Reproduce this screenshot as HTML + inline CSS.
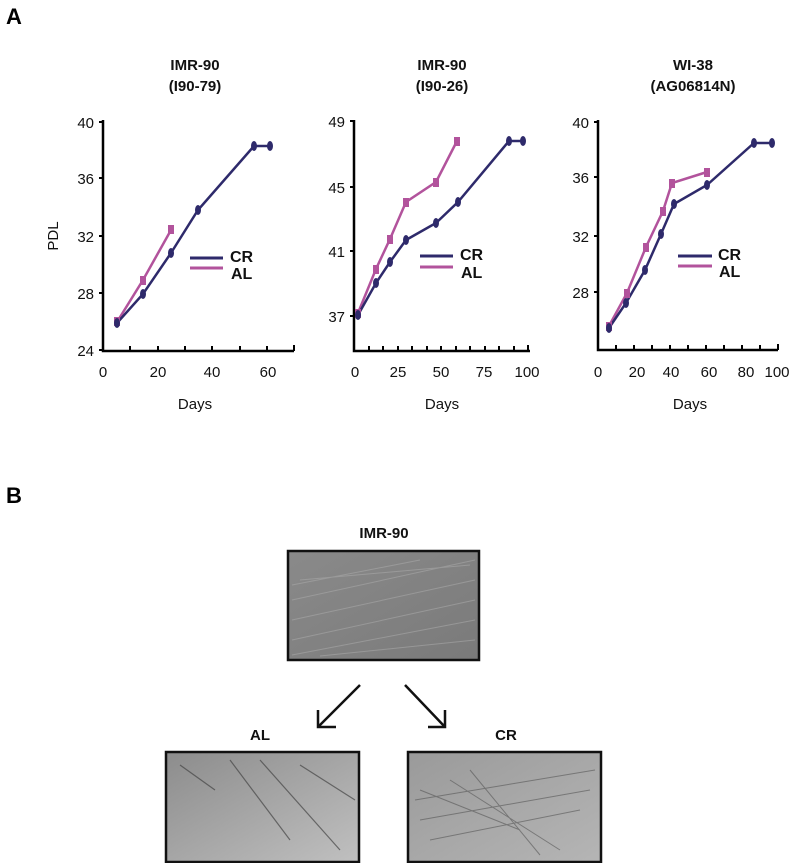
<!DOCTYPE html>
<html><head><meta charset="utf-8"><style>
body{margin:0;background:#fff;}
svg{display:block;font-family:"Liberation Sans",Arial,sans-serif;}
.t{font-size:15px;fill:#111;}
.h{font-size:15px;font-weight:bold;fill:#111;}
.cr{fill:none;stroke:#2e2a6b;stroke-width:2.5;}
.al{fill:none;stroke:#b2539c;stroke-width:2.5;}
.ax{stroke:#000;stroke-width:2.5;fill:none;}
</style></head><body>
<svg width="795" height="863" viewBox="0 0 795 863">
<defs>
<linearGradient id="g1" x1="0" y1="0" x2="1" y2="1"><stop offset="0" stop-color="#8a8a8a"/><stop offset="1" stop-color="#7a7a7a"/></linearGradient>
<linearGradient id="g2" x1="0" y1="0" x2="1" y2="1"><stop offset="0" stop-color="#8c8c8c"/><stop offset="1" stop-color="#c0c0c0"/></linearGradient>
<linearGradient id="g3" x1="0" y1="0" x2="1" y2="1"><stop offset="0" stop-color="#9a9a9a"/><stop offset="1" stop-color="#b5b5b5"/></linearGradient>
</defs>
<text x="6" y="24" style="font-size:22px;font-weight:bold">A</text>
<text x="6" y="503" style="font-size:22px;font-weight:bold">B</text>

<!-- Chart 1 -->
<text class="h" x="195" y="70" text-anchor="middle">IMR-90</text>
<text class="h" x="195" y="91" text-anchor="middle">(I90-79)</text>
<path class="ax" d="M103,120 V351 H294"/>
<g stroke="#000" stroke-width="2">
<path d="M103,122h-4M103,178h-4M103,236h-4M103,293h-4M103,350h-4"/>
<path d="M130,351v-5M158,351v-5M185,351v-5M212,351v-5M240,351v-5M267,351v-5M294,351v-6"/>
</g>
<g class="t" text-anchor="end"><text x="94" y="128">40</text><text x="94" y="184">36</text><text x="94" y="242">32</text><text x="94" y="299">28</text><text x="94" y="356">24</text></g>
<g class="t" text-anchor="middle"><text x="103" y="377">0</text><text x="158" y="377">20</text><text x="212" y="377">40</text><text x="268" y="377">60</text></g>
<text class="t" x="195" y="409" text-anchor="middle">Days</text>
<text class="t" x="58" y="236" text-anchor="middle" transform="rotate(-90 58 236)">PDL</text>
<polyline class="al" points="117,322 143,280 171,230"/>
<polyline class="cr" points="117,323 143,294 171,253 198,210 254,146 270,146"/>
<g fill="#b2539c"><rect x="114" y="317" width="6" height="9"/><rect x="140" y="276" width="6" height="9"/><rect x="168" y="225" width="6" height="9"/></g>
<g fill="#2e2a6b"><ellipse cx="117" cy="323" rx="3" ry="5"/><ellipse cx="143" cy="294" rx="3" ry="5"/><ellipse cx="171" cy="253" rx="3" ry="5"/><ellipse cx="198" cy="210" rx="3" ry="5"/><ellipse cx="254" cy="146" rx="3" ry="5"/><ellipse cx="270" cy="146" rx="3" ry="5"/></g>
<path d="M190,258h33" stroke="#2e2a6b" stroke-width="3"/><path d="M190,268h33" stroke="#b2539c" stroke-width="3"/>
<text class="h" x="230" y="262" style="font-size:16px">CR</text><text class="h" x="231" y="279" style="font-size:16px">AL</text>

<!-- Chart 2 -->
<text class="h" x="442" y="70" text-anchor="middle">IMR-90</text>
<text class="h" x="442" y="91" text-anchor="middle">(I90-26)</text>
<path class="ax" d="M354,120 V351 H530"/>
<g stroke="#000" stroke-width="2">
<path d="M354,121h-4M354,187h-4M354,251h-4M354,316h-4"/>
<path d="M369,351v-5M383,351v-5M398,351v-5M412,351v-5M427,351v-5M441,351v-5M456,351v-5M470,351v-5M485,351v-5M499,351v-5M514,351v-5M528,351v-6"/>
</g>
<g class="t" text-anchor="end"><text x="345" y="127">49</text><text x="345" y="193">45</text><text x="345" y="257">41</text><text x="345" y="322">37</text></g>
<g class="t" text-anchor="middle"><text x="355" y="377">0</text><text x="398" y="377">25</text><text x="441" y="377">50</text><text x="484" y="377">75</text><text x="527" y="377">100</text></g>
<text class="t" x="442" y="409" text-anchor="middle">Days</text>
<polyline class="al" points="358,313 376,269 390,239 406,202 436,182 457,141"/>
<polyline class="cr" points="358,315 376,283 390,262 406,240 436,223 458,202 509,141 523,141"/>
<g fill="#b2539c"><rect x="355" y="309" width="6" height="9"/><rect x="373" y="265" width="6" height="9"/><rect x="387" y="235" width="6" height="9"/><rect x="403" y="198" width="6" height="9"/><rect x="433" y="178" width="6" height="9"/><rect x="454" y="137" width="6" height="9"/></g>
<g fill="#2e2a6b"><ellipse cx="358" cy="315" rx="3" ry="5"/><ellipse cx="376" cy="283" rx="3" ry="5"/><ellipse cx="390" cy="262" rx="3" ry="5"/><ellipse cx="406" cy="240" rx="3" ry="5"/><ellipse cx="436" cy="223" rx="3" ry="5"/><ellipse cx="458" cy="202" rx="3" ry="5"/><ellipse cx="509" cy="141" rx="3" ry="5"/><ellipse cx="523" cy="141" rx="3" ry="5"/></g>
<path d="M420,256h33" stroke="#2e2a6b" stroke-width="3"/><path d="M420,267h33" stroke="#b2539c" stroke-width="3"/>
<text class="h" x="460" y="260" style="font-size:16px">CR</text><text class="h" x="461" y="278" style="font-size:16px">AL</text>

<!-- Chart 3 -->
<text class="h" x="693" y="70" text-anchor="middle">WI-38</text>
<text class="h" x="693" y="91" text-anchor="middle">(AG06814N)</text>
<path class="ax" d="M598,120 V350 H778"/>
<g stroke="#000" stroke-width="2">
<path d="M598,122h-4M598,177h-4M598,236h-4M598,292h-4"/>
<path d="M616,350v-5M634,350v-5M652,350v-5M670,350v-5M688,350v-5M706,350v-5M724,350v-5M742,350v-5M760,350v-5M778,350v-6"/>
</g>
<g class="t" text-anchor="end"><text x="589" y="128">40</text><text x="589" y="183">36</text><text x="589" y="242">32</text><text x="589" y="298">28</text></g>
<g class="t" text-anchor="middle"><text x="598" y="377">0</text><text x="637" y="377">20</text><text x="671" y="377">40</text><text x="709" y="377">60</text><text x="746" y="377">80</text><text x="777" y="377">100</text></g>
<text class="t" x="690" y="409" text-anchor="middle">Days</text>
<polyline class="al" points="609,326 627,293 646,247 663,211 672,183 707,172"/>
<polyline class="cr" points="609,328 626,303 645,270 661,234 674,204 707,185 754,143 772,143"/>
<g fill="#b2539c"><rect x="606" y="322" width="6" height="9"/><rect x="624" y="289" width="6" height="9"/><rect x="643" y="243" width="6" height="9"/><rect x="660" y="207" width="6" height="9"/><rect x="669" y="179" width="6" height="9"/><rect x="704" y="168" width="6" height="9"/></g>
<g fill="#2e2a6b"><ellipse cx="609" cy="328" rx="3" ry="5"/><ellipse cx="626" cy="303" rx="3" ry="5"/><ellipse cx="645" cy="270" rx="3" ry="5"/><ellipse cx="661" cy="234" rx="3" ry="5"/><ellipse cx="674" cy="204" rx="3" ry="5"/><ellipse cx="707" cy="185" rx="3" ry="5"/><ellipse cx="754" cy="143" rx="3" ry="5"/><ellipse cx="772" cy="143" rx="3" ry="5"/></g>
<path d="M678,256h34" stroke="#2e2a6b" stroke-width="3"/><path d="M678,266h34" stroke="#b2539c" stroke-width="3"/>
<text class="h" x="718" y="260" style="font-size:16px">CR</text><text class="h" x="719" y="277" style="font-size:16px">AL</text>

<!-- Section B -->
<text class="h" x="384" y="538" text-anchor="middle">IMR-90</text>
<rect x="288" y="551" width="191" height="109" fill="url(#g1)" stroke="#111" stroke-width="2.5"/>
<g stroke="#a8a8a8" stroke-width="1" opacity="0.6">
<path d="M292,600 L475,560 M292,620 L475,580 M292,640 L475,600 M292,655 L475,620 M300,580 L470,565 M292,585 L420,560 M320,656 L475,640"/>
</g>
<text class="h" x="260" y="740" text-anchor="middle">AL</text>
<text class="h" x="506" y="740" text-anchor="middle">CR</text>
<g stroke="#111" stroke-width="2.5" fill="none">
<path d="M360,685 L318,727 M318,710 V727 H336"/>
<path d="M405,685 L445,727 M445,710 V727 H428"/>
</g>
<rect x="166" y="752" width="193" height="110" fill="url(#g2)" stroke="#111" stroke-width="2.5"/>
<g stroke="#444" stroke-width="1.2" fill="none" opacity="0.7">
<path d="M230,760 L290,840 M260,760 L340,850 M300,765 L355,800 M180,765 L215,790"/>
</g>
<rect x="408" y="752" width="193" height="110" fill="url(#g3)" stroke="#111" stroke-width="2.5"/>
<g stroke="#555" stroke-width="1" fill="none" opacity="0.6">
<path d="M415,800 L595,770 M420,820 L590,790 M430,840 L580,810 M450,780 L560,850 M470,770 L540,855 M420,790 L520,830"/>
</g>
</svg>
</body></html>
